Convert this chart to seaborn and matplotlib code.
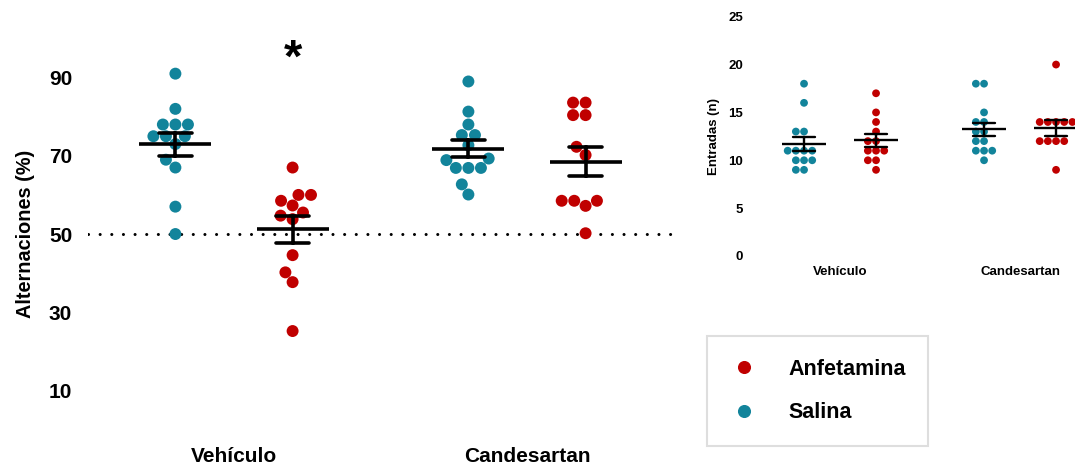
import numpy as np
import pandas as pd
import matplotlib
matplotlib.use("Agg")
import matplotlib.pyplot as plt
from matplotlib.lines import Line2D
import seaborn as sns

# Categories
treatments = ["Vehículo", "Candesartan"]
groups = ["Salina", "Anfetamina"]

# Spontaneous alternation (%) per animal
alt_salina_vehiculo = [91, 82, 78, 78, 78, 75, 75, 75, 73, 69, 67, 57, 50]
alt_anfetamina_vehiculo = [67, 60, 60, 58.5, 57.3, 55.5, 54.7, 53.8, 44.6, 40.2, 37.7, 25.2]
alt_salina_candesartan = [89, 81.3, 78, 75.3, 75.3, 72.7, 69.3, 68.9, 66.9, 66.9, 66.9, 62.7, 60.1]
alt_anfetamina_candesartan = [83.6, 83.6, 80.4, 80.4, 72.3, 70.2, 58.5, 58.5, 58.5, 57.2, 50.2]

# Arm entries (n) per animal
ent_salina_vehiculo = [18, 16, 13, 13, 11, 11, 11, 11, 10, 10, 10, 9, 9]
ent_anfetamina_vehiculo = [17, 15, 14, 13, 12, 12, 11, 11, 11, 10, 10, 9]
ent_salina_candesartan = [18, 18, 15, 14, 14, 13, 13, 12, 12, 11, 11, 11, 10]
ent_anfetamina_candesartan = [20, 14, 14, 14, 14, 14, 12, 12, 12, 12, 9]

# Axis ticks
alt_ticks = [10, 30, 50, 70, 90]
ent_ticks = [0, 5, 10, 15, 20, 25]
chance_level = 50


def long_frame(cells, value_name):
    rows = []
    for (trt, grp), vals in cells.items():
        rows.extend((trt, grp, v) for v in vals)
    return pd.DataFrame(rows, columns=["Tratamiento", "Grupo", value_name])


alt = long_frame({
    ("Vehículo", "Salina"): alt_salina_vehiculo,
    ("Vehículo", "Anfetamina"): alt_anfetamina_vehiculo,
    ("Candesartan", "Salina"): alt_salina_candesartan,
    ("Candesartan", "Anfetamina"): alt_anfetamina_candesartan,
}, "Alternaciones")

ent = long_frame({
    ("Vehículo", "Salina"): ent_salina_vehiculo,
    ("Vehículo", "Anfetamina"): ent_anfetamina_vehiculo,
    ("Candesartan", "Salina"): ent_salina_candesartan,
    ("Candesartan", "Anfetamina"): ent_anfetamina_candesartan,
}, "Entradas")

sns.set_style("white")
plt.rcParams["font.family"] = ["Liberation Sans", "DejaVu Sans"]
plt.rcParams["font.weight"] = "bold"
for key in ("text.color", "axes.labelcolor", "xtick.color", "ytick.color"):
    plt.rcParams[key] = "black"

TEAL = "#12849b"
RED = "#c00000"
palette = {"Salina": TEAL, "Anfetamina": RED}
black = {"Salina": "black", "Anfetamina": "black"}

fig = plt.figure(figsize=(10.75, 4.69), dpi=100)

# ---- main panel: alternations ----
ax = fig.add_axes([0.0814, 0.084, 0.5451, 0.834])
sns.swarmplot(data=alt, x="Tratamiento", y="Alternaciones", hue="Grupo",
              order=treatments, hue_order=groups, palette=palette,
              dodge=True, size=8.6, linewidth=0, legend=False, ax=ax, zorder=2)
sns.pointplot(data=alt, x="Tratamiento", y="Alternaciones", hue="Grupo",
              order=treatments, hue_order=groups, palette=black,
              dodge=0.4, errorbar="se", capsize=0.11,
              marker="_", markersize=52, markeredgewidth=2.6,
              linestyle="none", err_kws={"linewidth": 2.6},
              legend=False, ax=ax, zorder=4)
ax.axhline(chance_level, color="black", linewidth=2.2,
           linestyle=(0, (0.01, 3.8)), dash_capstyle="round", zorder=0.5)
ax.text(0.2, 94.5, "*", ha="center", va="center", fontsize=34,
        fontweight="bold")

ax.set_xlim(-0.5, 1.5)
ax.set_ylim(0, 100)
ax.set_yticks(alt_ticks)
ax.set_xlabel("")
ax.set_ylabel("Alternaciones (%)", fontsize=14.3, fontweight="bold",
              labelpad=10)
ax.tick_params(axis="both", length=0, labelsize=15)
ax.tick_params(axis="x", pad=12.5)
ax.tick_params(axis="y", pad=11)
for lab in ax.get_xticklabels() + ax.get_yticklabels():
    lab.set_fontweight("bold")
for s in ax.spines.values():
    s.set_visible(False)

# ---- inset panel: arm entries ----
ax2 = fig.add_axes([0.6977, 0.4542, 0.3349, 0.5102])
sns.swarmplot(data=ent, x="Tratamiento", y="Entradas", hue="Grupo",
              order=treatments, hue_order=groups, palette=palette,
              dodge=True, size=5.6, linewidth=0, legend=False, ax=ax2, zorder=2)
sns.pointplot(data=ent, x="Tratamiento", y="Entradas", hue="Grupo",
              order=treatments, hue_order=groups, palette=black,
              dodge=0.4, errorbar="se", capsize=0.122,
              marker="_", markersize=32, markeredgewidth=1.7,
              linestyle="none", err_kws={"linewidth": 1.7},
              legend=False, ax=ax2, zorder=4)
ax2.set_xlim(-0.5, 1.5)
ax2.set_ylim(0, 25)
ax2.set_yticks(ent_ticks)
ax2.set_xlabel("")
ax2.set_ylabel("Entradas (n)", fontsize=9.5, fontweight="bold", labelpad=6)
ax2.tick_params(axis="both", length=0, labelsize=9.5)
ax2.tick_params(axis="x", pad=7)
ax2.tick_params(axis="y", pad=5)
for lab in ax2.get_xticklabels() + ax2.get_yticklabels():
    lab.set_fontweight("bold")
for s in ax2.spines.values():
    s.set_visible(False)

# ---- legend ----
handles = [
    Line2D([], [], marker="o", linestyle="", color=RED, markersize=8.4,
           label="Anfetamina"),
    Line2D([], [], marker="o", linestyle="", color=TEAL, markersize=8.4,
           label="Salina"),
]
leg = fig.legend(handles=handles, loc="upper left",
                 bbox_to_anchor=(707 / 1075, 1 - 336 / 469),
                 frameon=True, fancybox=False, edgecolor="#d6d6d6",
                 prop={"weight": "bold", "size": 15.5},
                 borderpad=1.06, labelspacing=1.05, handletextpad=1.39,
                 handlelength=1.32, borderaxespad=0)
leg.get_frame().set_linewidth(1.5)

fig.savefig("out.png", dpi=100)
